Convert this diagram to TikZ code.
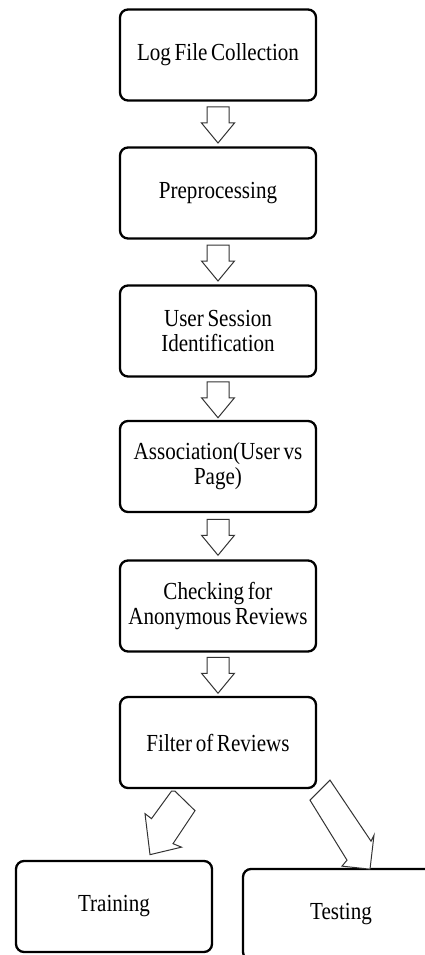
\documentclass[tikz,border=0pt]{standalone}
\usepackage{fontspec}
\setmainfont{Liberation Serif}[FakeStretch=0.86,WordSpace=0.7]
\usetikzlibrary{calc}
\tikzset{
  box/.style={draw=black, line width=2.3pt, rounded corners=8pt, fill=white,
    minimum width=196pt, minimum height=91pt, align=center,
    font=\fontsize{24.5}{25}\selectfont, inner sep=0pt},
  arrowline/.style={draw=black!80, line width=1pt, line join=miter, fill=white},
  pics/downarr/.style={code={
    \draw[arrowline] (-11,-17) -- (11,-17) -- (11,-1) -- (16.5,-1) -- (0,19)
      -- (-16.5,-1) -- (-11,-1) -- cycle;}}
}
\begin{document}
\begin{tikzpicture}[x=1pt,y=-1pt]
\useasboundingbox (0,0) rectangle (425,955);
\fill[white] (0,0) rectangle (425,955);
\clip (0,0) rectangle (425,955);

\node[box] (b1) at (218,55) {Log File Collection};
\node[box] (b2) at (218,193) {Preprocessing};
\node[box] (b3) at (218,331) {User Session\\Identification};
\node[box] (b4) at (218,466.5) {Association(User vs\\Page)};
\node[box] (b5) at (218,606) {Checking for\\Anonymous Reviews};
\node[box] (b6) at (218,742.5) {Filter of Reviews};
\node[box] (train) at (114,906.5) {Training};
\node[box] (test) at (341,914.5) {Testing};

\pic at ($(b1.south)!0.5!(b2.north)$) {downarr};
\pic at ($(b2.south)!0.5!(b3.north)$) {downarr};
\pic at ($(b3.south)!0.5!(b4.north)$) {downarr};
\pic at ($(b4.south)!0.5!(b5.north)$) {downarr};
\pic at ($(b5.south)!0.5!(b6.north)$) {downarr};

\begin{scope}[shift={(b6.south)}]
  \draw[arrowline] (-46.5,2) -- (-43,2) -- (-23,21.5) -- (-45,54.5) -- (-36.5,58)
    -- (-68,65.5) -- (-73,24.5) -- (-66.5,29.5) -- cycle;
  \draw[arrowline] (112,-9) -- (92,11) -- (129,71) -- (124,77) -- (152,80)
    -- (156,46) -- (153,52) -- cycle;
\end{scope}
\end{tikzpicture}
\end{document}
